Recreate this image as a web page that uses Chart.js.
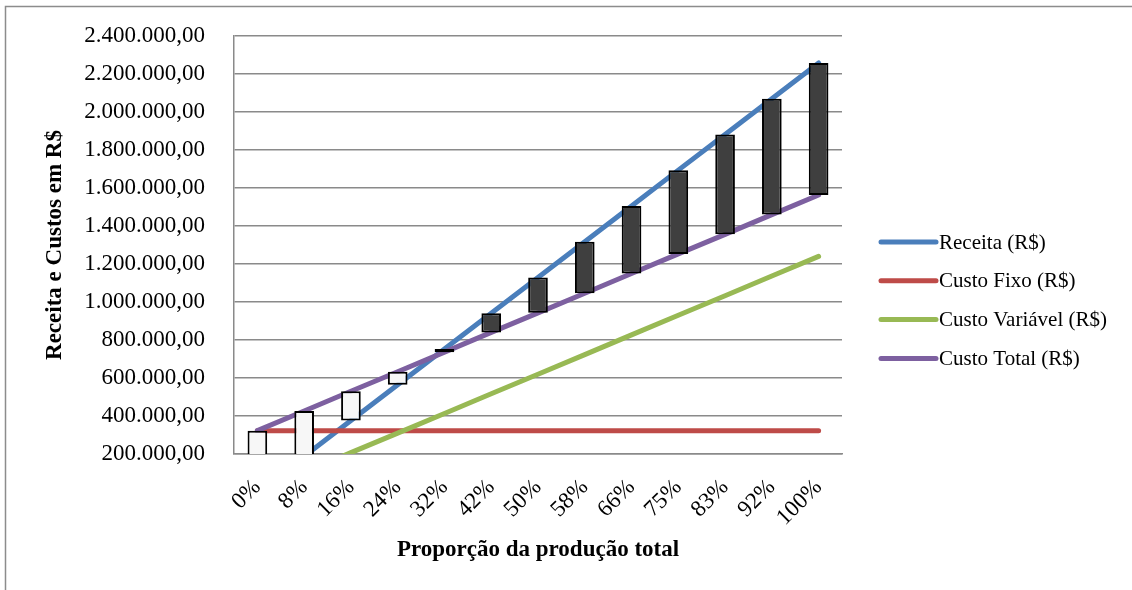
<!DOCTYPE html>
<html lang="pt-BR">
<head>
<meta charset="utf-8">
<title>Ponto de equilíbrio</title>
<script src="https://cdn.jsdelivr.net/npm/chart.js@4.4.1/dist/chart.umd.min.js"></script>
<style>
  html, body { margin: 0; padding: 0; background: #ffffff; }
  #wrap { width: 1132px; height: 590px; position: relative; }
</style>
</head>
<body>
<div id="wrap"><canvas id="grafico" width="1132" height="590"></canvas></div>
<script>
// Proporção da produção total (eixo das categorias)
const categorias = ['0%', '8%', '16%', '24%', '32%', '42%', '50%', '58%', '66%', '75%', '83%', '92%', '100%'];

// Valores em R$
const receita = [0, 188000, 376000, 565000, 753000, 941000, 1129000, 1317000, 1505000, 1694000, 1882000, 2070000, 2258000];
const custoFixo = [323000, 323000, 323000, 323000, 323000, 323000, 323000, 323000, 323000, 323000, 323000, 323000, 323000];
const custoVariavel = [0, 103000, 207000, 310000, 413000, 517000, 620000, 723000, 827000, 930000, 1033000, 1137000, 1240000];
const custoTotal = [323000, 426000, 530000, 633000, 736000, 840000, 943000, 1046000, 1150000, 1253000, 1356000, 1460000, 1563000];

// Eixo vertical
const eixoMin = 200000;
const eixoMax = 2400000;
const eixoPasso = 200000;

const nomes = ['Receita (R$)', 'Custo Fixo (R$)', 'Custo Variável (R$)', 'Custo Total (R$)'];
const cores = ['#4a7ebb', '#be4b48', '#98b954', '#7d60a0'];

const FONTE = '"Liberation Serif", "Times New Roman", serif';

// 1234567 -> "1.234.567,00"
function formatoBR(v) {
  const inteiro = Math.round(v).toString().replace(/\B(?=(\d{3})+(?!\d))/g, '.');
  return inteiro + ',00';
}

// Barras entre Receita e Custo Total (abertura = receita, fechamento = custo total)
const barras = categorias.map((_, i) => [receita[i], custoTotal[i]]);

function serie(idx, valores, ordem) {
  return {
    type: 'line',
    label: nomes[idx],
    data: valores,
    borderColor: cores[idx],
    backgroundColor: cores[idx],
    borderWidth: 5,
    borderCapStyle: 'round',
    borderJoinStyle: 'round',
    pointRadius: 0,
    pointHoverRadius: 0,
    tension: 0,
    fill: false,
    order: ordem
  };
}

// Moldura externa e fundo branco
const moldura = {
  id: 'moldura',
  beforeDraw(chart) {
    const ctx = chart.ctx;
    ctx.save();
    ctx.fillStyle = '#ffffff';
    ctx.fillRect(0, 0, chart.width, chart.height);
    ctx.strokeStyle = '#8c8c8c';
    ctx.lineWidth = 1.5;
    ctx.strokeRect(5.5, 6.5, chart.width + 20, chart.height + 20);
    ctx.restore();
  }
};

// Legenda à direita com amostras de linha
const legendaLinhas = {
  id: 'legendaLinhas',
  afterDraw(chart) {
    const ctx = chart.ctx;
    const x0 = 881, x1 = 936, xTexto = 939;
    const y0 = 242, passo = 38.8;
    ctx.save();
    ctx.font = '21px ' + FONTE;
    ctx.textBaseline = 'middle';
    ctx.textAlign = 'left';
    chart.data.datasets.forEach((ds) => {
      if (ds.type !== 'line') return;
      const i = nomes.indexOf(ds.label);
      const y = y0 + i * passo;
      ctx.strokeStyle = ds.borderColor;
      ctx.lineWidth = 5;
      ctx.lineCap = 'round';
      ctx.beginPath();
      ctx.moveTo(x0, y);
      ctx.lineTo(x1, y);
      ctx.stroke();
      ctx.fillStyle = '#000000';
      ctx.fillText(ds.label, xTexto, y + 1);
    });
    ctx.restore();
  }
};

new Chart(document.getElementById('grafico'), {
  type: 'bar',
  data: {
    labels: categorias,
    datasets: [
      serie(0, receita, 4),
      serie(1, custoFixo, 3),
      serie(2, custoVariavel, 2),
      serie(3, custoTotal, 1),
      {
        type: 'bar',
        label: 'Barras',
        data: barras,
        backgroundColor: (c) => {
          const v = c.raw;
          if (!v) return '#f7f7f7';
          return v[1] >= v[0] ? '#f7f7f7' : '#3f3f3f';
        },
        borderColor: '#000000',
        borderWidth: 2,
        borderSkipped: false,
        barPercentage: 0.42,
        categoryPercentage: 1.0,
        order: 0
      }
    ]
  },
  options: {
    responsive: false,
    animation: false,
    devicePixelRatio: 1,
    layout: { padding: { top: 36, right: 290, left: 0, bottom: 0 } },
    plugins: {
      legend: { display: false },
      tooltip: { enabled: false }
    },
    scales: {
      x: {
        type: 'category',
        offset: true,
        grid: { display: false, drawTicks: false },
        border: { display: true, color: '#8a8a8a', width: 1.5 },
        ticks: {
          color: '#000000',
          font: { family: FONTE, size: 23 },
          minRotation: 45,
          maxRotation: 45,
          autoSkip: false,
          padding: 20
        },
        title: {
          display: true,
          text: 'Proporção da produção total',
          color: '#000000',
          font: { family: FONTE, size: 23, weight: 'bold' },
          padding: { top: 0, bottom: 26 }
        },
        afterFit(scale) {
          scale.height = 136;
          scale.paddingLeft = 0;
          scale.paddingRight = 0;
        }
      },
      y: {
        min: eixoMin,
        max: eixoMax,
        grid: { color: '#8a8a8a', lineWidth: 1.5, drawTicks: false },
        border: { display: true, color: '#8a8a8a', width: 1.5 },
        ticks: {
          stepSize: eixoPasso,
          color: '#000000',
          font: { family: FONTE, size: 23 },
          padding: 29,
          callback: (v) => formatoBR(v)
        },
        title: {
          display: true,
          text: 'Receita e Custos em R$',
          color: '#000000',
          font: { family: FONTE, size: 23, weight: 'bold' },
          padding: { top: 41, bottom: 0 }
        },
        afterFit(scale) {
          scale.width = 234;
          scale.paddingTop = 0;
          scale.paddingBottom = 0;
        }
      }
    }
  },
  plugins: [moldura, legendaLinhas]
});
</script>
</body>
</html>
